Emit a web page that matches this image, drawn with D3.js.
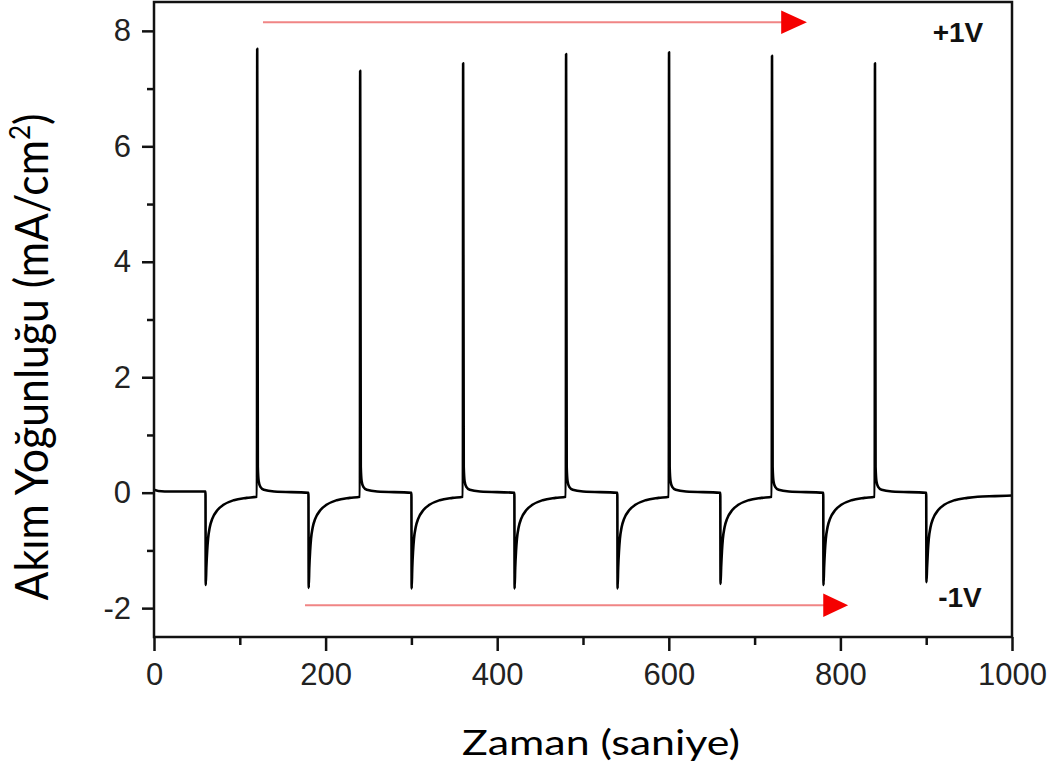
<!DOCTYPE html>
<html>
<head>
<meta charset="utf-8">
<script src="https://cdn.jsdelivr.net/npm/d3@7"></script>
<style>
  html, body { margin: 0; padding: 0; background: #fff; }
  svg { display: block; }
</style>
</head>
<body>
<svg id="chart" width="1058" height="771"></svg>
<script>
// ---------------- data ----------------
const xTicksMajor = [0, 200, 400, 600, 800, 1000];
const xTicksMinor = [100, 300, 500, 700, 900];
const yTicksMajor = [-2, 0, 2, 4, 6, 8];
const yTicksMinor = [-1, 1, 3, 5, 7];

const timeSec = [
  0, 5, 20, 60,
  60.3, 61, 62, 63, 65, 68, 74, 81, 93, 108, 120,
  120.3, 121, 122, 124, 128, 140, 180,
  180.3, 181, 182, 183, 185, 188, 194, 201, 213, 228, 240,
  240.3, 241, 242, 244, 248, 260, 300,
  300.3, 301, 302, 303, 305, 308, 314, 321, 333, 348, 360,
  360.3, 361, 362, 364, 368, 380, 420,
  420.3, 421, 422, 423, 425, 428, 434, 441, 453, 468, 480,
  480.3, 481, 482, 484, 488, 500, 540,
  540.3, 541, 542, 543, 545, 548, 554, 561, 573, 588, 600,
  600.3, 601, 602, 604, 608, 620, 660,
  660.3, 661, 662, 663, 665, 668, 674, 681, 693, 708, 720,
  720.3, 721, 722, 724, 728, 740, 780,
  780.3, 781, 782, 783, 785, 788, 794, 801, 813, 828, 840,
  840.3, 841, 842, 844, 848, 860, 900,
  900.3, 901, 902, 903, 905, 908, 914, 921, 933, 948, 960, 980, 1000
];
const currentDensity = [
  0.05, 0.03, 0.02, 0.02,
  -1.60, -1.30, -1.00, -0.80, -0.60, -0.45, -0.30, -0.21, -0.13, -0.09, -0.07,
  7.69, 0.45, 0.20, 0.10, 0.05, 0.02, 0.00,
  -1.65, -1.30, -1.00, -0.80, -0.60, -0.45, -0.30, -0.21, -0.13, -0.09, -0.07,
  7.31, 0.45, 0.20, 0.10, 0.05, 0.02, 0.00,
  -1.66, -1.30, -1.00, -0.80, -0.60, -0.45, -0.30, -0.21, -0.13, -0.09, -0.07,
  7.44, 0.45, 0.20, 0.10, 0.05, 0.02, 0.00,
  -1.66, -1.30, -1.00, -0.80, -0.60, -0.45, -0.30, -0.21, -0.13, -0.09, -0.07,
  7.60, 0.45, 0.20, 0.10, 0.05, 0.02, 0.00,
  -1.66, -1.30, -1.00, -0.80, -0.60, -0.45, -0.30, -0.21, -0.13, -0.09, -0.07,
  7.63, 0.45, 0.20, 0.10, 0.05, 0.02, 0.00,
  -1.58, -1.30, -1.00, -0.80, -0.60, -0.45, -0.30, -0.21, -0.13, -0.09, -0.07,
  7.57, 0.45, 0.20, 0.10, 0.05, 0.02, 0.00,
  -1.60, -1.30, -1.00, -0.80, -0.60, -0.45, -0.30, -0.21, -0.13, -0.09, -0.07,
  7.44, 0.45, 0.20, 0.10, 0.05, 0.02, 0.00,
  -1.55, -1.30, -1.00, -0.80, -0.60, -0.45, -0.30, -0.21, -0.13, -0.09, -0.07, -0.06, -0.05
];

// arrows: [tStart, tHeadBase, tTip, level]
const arrowTop = [127, 731, 761, 8.15];
const arrowBottom = [176, 780, 809, -1.95];
const labelTexts = ["+1V", "-1V"];
const xTitle = "Zaman (saniye)";
const yTitleMain = "Akım Yoğunluğu (mA/cm";
const yTitleSup = "2";

// ---------------- layout ----------------
const W = 1058, H = 771;
const margin = { left: 154, top: 2, right: 46, bottom: 134 };
const iw = W - margin.left - margin.right;
const ih = H - margin.top - margin.bottom;

const svg = d3.select("#chart");
const g = svg.append("g").attr("transform", `translate(${margin.left},${margin.top})`);

const x = d3.scaleLinear().domain([0, 1000]).range([0, iw]);
const y = d3.scaleLinear().domain([-2.5, 8.5]).range([ih, 0]);

const tickFont = "'Liberation Sans', Arial, sans-serif";
const fmt = d => String(d);

// minor ticks
g.append("g").attr("transform", `translate(0,${ih})`)
  .call(d3.axisBottom(x).tickValues(xTicksMinor).tickSize(8).tickFormat(""))
  .call(a => a.select(".domain").remove())
  .call(a => a.selectAll("line").attr("stroke", "#111").attr("stroke-width", 2.5));
g.append("g")
  .call(d3.axisLeft(y).tickValues(yTicksMinor).tickSize(7).tickFormat(""))
  .call(a => a.select(".domain").remove())
  .call(a => a.selectAll("line").attr("stroke", "#111").attr("stroke-width", 2.5));

// major ticks
g.append("g").attr("transform", `translate(0,${ih})`)
  .call(d3.axisBottom(x).tickValues(xTicksMajor).tickSize(14).tickPadding(12).tickFormat(fmt))
  .call(a => a.select(".domain").remove())
  .call(a => a.selectAll("line").attr("stroke", "#111").attr("stroke-width", 2.5))
  .call(a => a.selectAll("text").attr("font-family", tickFont).attr("font-size", 31).attr("fill", "#222"));
g.append("g")
  .call(d3.axisLeft(y).tickValues(yTicksMajor).tickSize(12).tickPadding(11).tickFormat(fmt))
  .call(a => a.select(".domain").remove())
  .call(a => a.selectAll("line").attr("stroke", "#111").attr("stroke-width", 2.5))
  .call(a => a.selectAll("text").attr("font-family", tickFont).attr("font-size", 31).attr("fill", "#222"));

// data line
const pts = timeSec.map((t, i) => [t, currentDensity[i]]);
g.append("path")
  .datum(pts)
  .attr("fill", "none")
  .attr("stroke", "#000")
  .attr("stroke-width", 2.6)
  .attr("stroke-linejoin", "round")
  .attr("d", d3.line().x(d => x(d[0])).y(d => y(d[1])).curve(d3.curveMonotoneX));

// frame
g.append("rect")
  .attr("x", 0).attr("y", 0).attr("width", iw).attr("height", ih)
  .attr("fill", "none").attr("stroke", "#111").attr("stroke-width", 2.5);

// arrows
function drawArrow(a) {
  const [t0, tb, tt, lv] = a;
  g.append("line")
    .attr("x1", x(t0)).attr("x2", x(tb) + 2)
    .attr("y1", y(lv)).attr("y2", y(lv))
    .attr("stroke", "#f08585").attr("stroke-width", 2);
  const half = 11.8;
  g.append("path")
    .attr("d", `M${x(tb)},${y(lv) - half}L${x(tt)},${y(lv)}L${x(tb)},${y(lv) + half}Z`)
    .attr("fill", "#f50000");
}
drawArrow(arrowTop);
drawArrow(arrowBottom);

// +1V / -1V labels
svg.append("text").attr("x", 958).attr("y", 41.5).attr("text-anchor", "middle")
  .attr("font-family", tickFont).attr("font-weight", "bold").attr("font-size", 28).attr("fill", "#111")
  .text(labelTexts[0]);
svg.append("text").attr("x", 960).attr("y", 606.5).attr("text-anchor", "middle")
  .attr("font-family", tickFont).attr("font-weight", "bold").attr("font-size", 28).attr("fill", "#111")
  .text(labelTexts[1]);

// axis titles (scaled along their length to match the reference extent)
const titleFont = "Lato, 'Open Sans', sans-serif";
const xt = svg.append("text")
  .attr("text-anchor", "middle")
  .attr("font-family", titleFont).attr("font-size", 35).attr("fill", "#000")
  .text(xTitle);
{
  const len = xt.node().getComputedTextLength();
  const s = 278 / len;
  xt.attr("transform", `translate(601,755) scale(${s},1)`);
}

const yt = svg.append("text")
  .attr("text-anchor", "middle")
  .attr("font-family", titleFont).attr("font-size", 46).attr("fill", "#000");
yt.append("tspan").text(yTitleMain);
yt.append("tspan").attr("font-size", 28).attr("dy", -18).text(yTitleSup);
yt.append("tspan").attr("dy", 18).text(")");
{
  const bb = yt.node().getBBox();
  const s = 487 / bb.width;
  yt.attr("transform", `translate(48,357) rotate(-90) scale(${s},1)`);
}
</script>
</body>
</html>
